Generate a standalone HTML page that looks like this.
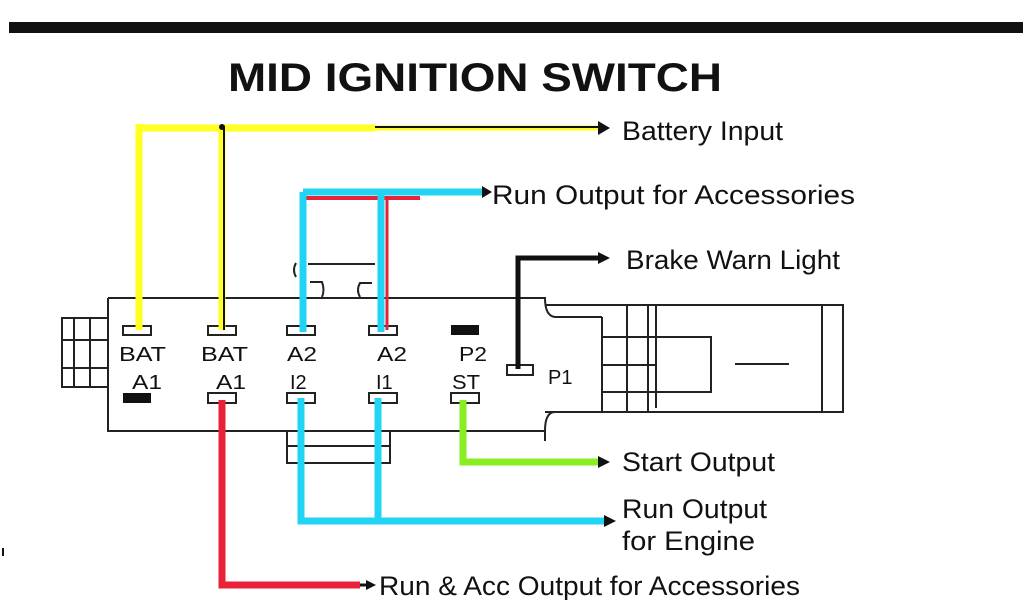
<!DOCTYPE html>
<html><head><meta charset="utf-8"><style>
html,body{margin:0;padding:0;background:#fff;width:1024px;height:600px;overflow:hidden}
svg{display:block}
text{font-family:"Liberation Sans",Arial,sans-serif;fill:#111}
</style></head><body>
<svg width="1024" height="600" viewBox="0 0 1024 600" xmlns="http://www.w3.org/2000/svg">
<rect x="9" y="22" width="1014" height="11" fill="#111"/>
<text x="228" y="91" font-size="40" font-weight="bold" textLength="494" lengthAdjust="spacingAndGlyphs">MID IGNITION SWITCH</text>

<g fill="none" stroke="#222" stroke-width="2">
<rect x="62" y="318" width="46" height="69"/>
<line x1="74" y1="318" x2="74" y2="387"/><line x1="90" y1="318" x2="90" y2="387"/>
<line x1="62" y1="340" x2="108" y2="340"/><line x1="62" y1="368" x2="108" y2="368"/>
<path d="M108 298 H545 Q545 316 555 317 H602 M108 298 V431 H545 Q545 412 555 412 H602"/>
<path d="M545 305 H843 V412 H545"/>
<path d="M545 431 V441"/>
<line x1="602" y1="317" x2="602" y2="412"/>
<line x1="627" y1="305" x2="627" y2="412"/>
<line x1="648" y1="305" x2="648" y2="412"/>
<line x1="656" y1="305" x2="656" y2="408"/>
<line x1="822" y1="305" x2="822" y2="412"/>
<path d="M648 337 H711 V392 H648"/>
<line x1="602" y1="337" x2="648" y2="337"/><line x1="602" y1="365" x2="656" y2="365"/><line x1="602" y1="392" x2="648" y2="392"/>
<line x1="735" y1="364" x2="789" y2="364"/>
<path d="M287 431 V463 H390 V431"/>
<line x1="287" y1="446" x2="390" y2="446"/>
<line x1="308" y1="264" x2="375" y2="264"/>
<path d="M296 263 Q292 270 296 277 M310 282 H322 Q325 290 322 297"/>
<path d="M360 297 Q356 290 360 283 H372"/>
<rect x="123" y="326" width="28" height="9"/><rect x="208" y="326" width="28" height="9"/>
<rect x="287" y="326" width="28" height="9"/><rect x="369" y="326" width="28" height="9"/>
<rect x="208" y="393" width="28" height="10"/><rect x="287" y="393" width="28" height="10"/>
<rect x="369" y="393" width="28" height="10"/><rect x="451" y="393" width="28" height="10"/>
<rect x="507" y="365" width="26" height="10"/>
</g>
<rect x="123" y="393" width="28" height="10" fill="#111"/>
<rect x="451" y="325" width="28" height="10" fill="#111"/>

<g font-size="20">
<text x="119" y="361" textLength="47" lengthAdjust="spacingAndGlyphs">BAT</text>
<text x="201" y="361" textLength="47" lengthAdjust="spacingAndGlyphs">BAT</text>
<text x="287" y="361" textLength="30" lengthAdjust="spacingAndGlyphs">A2</text>
<text x="377" y="361" textLength="30" lengthAdjust="spacingAndGlyphs">A2</text>
<text x="459" y="361" textLength="28" lengthAdjust="spacingAndGlyphs">P2</text>
<text x="132" y="389" textLength="30" lengthAdjust="spacingAndGlyphs">A1</text>
<text x="216" y="389" textLength="30" lengthAdjust="spacingAndGlyphs">A1</text>
<text x="290" y="389">I2</text><text x="376" y="389">I1</text>
<text x="452" y="389" textLength="28" lengthAdjust="spacingAndGlyphs">ST</text>
<text x="548" y="384">P1</text>
</g>

<g fill="none" stroke-linecap="butt">
<path d="M139 124 V330" stroke="#ffff22" stroke-width="7"/>
<path d="M139 128 H375" stroke="#ffff22" stroke-width="7"/>
<path d="M375 128 H600" stroke="#ffff22" stroke-width="5"/>
<path d="M375 127 H600" stroke="#111" stroke-width="2"/>
<path d="M222 126 V330" stroke="#ffff22" stroke-width="7"/>
<path d="M224 126 V330" stroke="#111" stroke-width="2"/>
<path d="M303 198 H420" stroke="#e8223a" stroke-width="4"/>
<path d="M387 198 V330" stroke="#e8223a" stroke-width="3"/>
<path d="M303 192 H485" stroke="#22d4f4" stroke-width="7"/>
<path d="M303 192 V332" stroke="#22d4f4" stroke-width="7"/>
<path d="M381 192 V332" stroke="#22d4f4" stroke-width="7"/>
<path d="M518 369 V258 H600" stroke="#111" stroke-width="5"/>
<path d="M463 400 V462 H600" stroke="#88ee22" stroke-width="7"/>
<path d="M301 398 V521 H606" stroke="#22d4f4" stroke-width="7"/>
<path d="M378 398 V521" stroke="#22d4f4" stroke-width="7"/>
<path d="M222 400 V585 H360" stroke="#e8223a" stroke-width="7"/>
<path d="M360 585 H368" stroke="#111" stroke-width="3"/>
</g>
<g fill="#111">
<polygon points="598,121 610,128 598,135"/>
<polygon points="598,252 610,258 598,264"/>
<polygon points="598,456 610,462 598,468"/>
<polygon points="604,515 616,521 604,527"/>
<polygon points="366,580 376,585 366,590"/>
<polygon points="482,186 492,192 482,198"/>
<circle cx="222" cy="127" r="3"/>
</g>
<g font-size="27">
<text x="622" y="140" textLength="161" lengthAdjust="spacingAndGlyphs">Battery Input</text>
<text x="492" y="204" textLength="363" lengthAdjust="spacingAndGlyphs">Run Output for Accessories</text>
<text x="626" y="269" textLength="214" lengthAdjust="spacingAndGlyphs">Brake Warn Light</text>
<text x="622" y="471" textLength="153" lengthAdjust="spacingAndGlyphs">Start Output</text>
<text x="622" y="518" textLength="145" lengthAdjust="spacingAndGlyphs">Run Output</text>
<text x="622" y="550" textLength="133" lengthAdjust="spacingAndGlyphs">for Engine</text>
<text x="379" y="595" textLength="421" lengthAdjust="spacingAndGlyphs">Run &amp; Acc Output  for Accessories</text>
</g>
<rect x="2" y="548" width="2" height="8" fill="#111"/>
</svg>
</body></html>
